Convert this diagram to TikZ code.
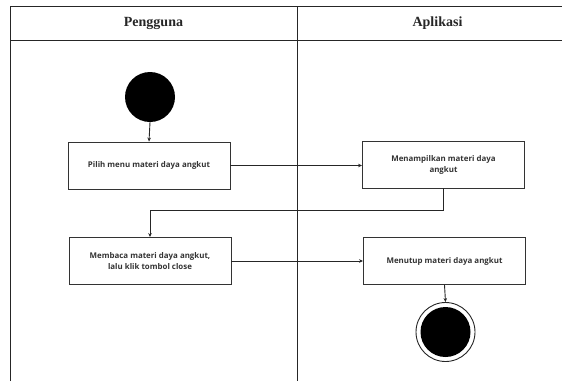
\documentclass[tikz,border=0pt]{standalone}
\usepackage{fontspec}
\setmainfont{Liberation Serif}
\newfontfamily\boxfont{Open Sans}
\usetikzlibrary{arrows.meta}
\begin{document}
\begin{tikzpicture}[x=1pt,y=-1pt,
  lane/.style={draw=black!85, line width=1pt},
  act/.style={draw=black!80, line width=0.9pt, minimum width=162pt, minimum height=47pt, align=center, inner sep=2pt, font=\boxfont\bfseries\fontsize{7.9}{11}\selectfont, text=black!80},
  flow/.style={draw=black!85, line width=0.9pt, -{Stealth[length=4pt,width=3.5pt]}},
  hdr/.style={font=\bfseries\fontsize{14}{16}\selectfont, text=black!85}]
\useasboundingbox (0,0) rectangle (562,381);
% swimlanes
\draw[lane] (10,381) -- (10,6) -- (562,6);
\draw[lane] (10,40) -- (562,40);
\draw[lane] (297,6) -- (297,381);
\node[hdr] (h1) at (153.5,23) {Pengguna};
\node[hdr] (h2) at (437.5,23) {Aplikasi};
% nodes
\node[circle, fill=black, minimum size=50pt, inner sep=0pt] (start) at (150,97) {};
\node[act] (a1) at (149,165.5) {Pilih menu materi daya angkut};
\node[act] (a2) at (443.5,164.5) {Menampilkan materi daya\\angkut};
\node[act] (a3) at (150,261) {Membaca materi daya angkut,\\lalu klik tombol close};
\node[act] (a4) at (444.5,261) {Menutup materi daya angkut};
\node[circle, draw=black!85, line width=0.9pt, minimum size=59pt, inner sep=0pt] (end) at (445.5,332) {};
\node[circle, fill=black, minimum size=50pt, inner sep=0pt] (endin) at (end.center) {};
% connectors
\draw[flow] (start.south) -- (a1.north);
\draw[flow] (a1.east) -- (a2.west |- a1.east);
\draw[flow] (a2.south) -- ++(0,21.5) -| (a3.north);
\draw[flow] (a3.east) -- (a4.west |- a3.east);
\draw[flow] (a4.south) -- (end.north);
\end{tikzpicture}
\end{document}
